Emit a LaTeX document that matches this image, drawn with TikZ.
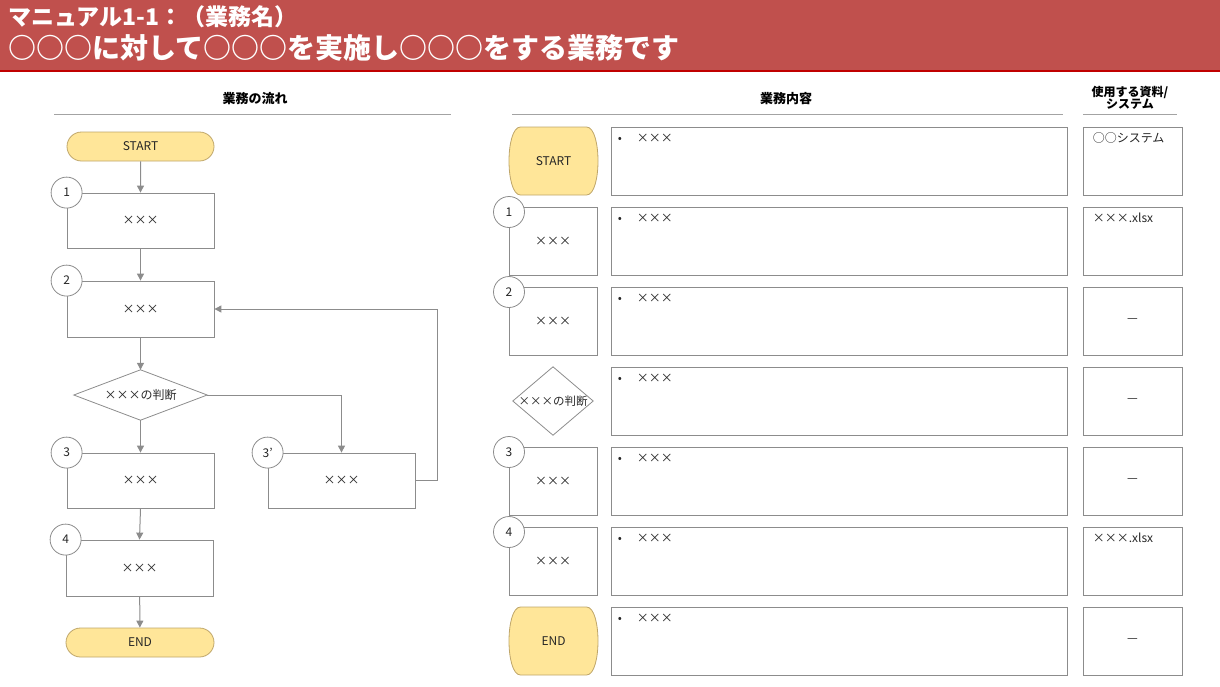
\documentclass[tikz,border=0pt]{standalone}
\usepackage{fontspec}
\setmainfont{Noto Sans CJK JP}
\usetikzlibrary{shapes.geometric,shapes.misc,arrows.meta}
\definecolor{hdrred}{HTML}{C0504D}
\definecolor{hdrline}{HTML}{C00000}
\definecolor{lg}{HTML}{8C8C8C}
\definecolor{termfill}{HTML}{FFE699}
\definecolor{termdraw}{HTML}{BFA66A}
\definecolor{txt}{HTML}{262626}
\begin{document}
\begin{tikzpicture}[x=1pt,y=-1pt,
  every node/.style={font=\fontsize{12}{14}\selectfont, text=txt},
  fbox/.style={draw=lg, line width=0.8pt, fill=white, minimum width=147pt, minimum height=55pt, inner sep=0pt},
  numc/.style={circle, draw=lg, line width=0.8pt, fill=white, minimum size=31pt, inner sep=0pt},
  term/.style={rounded rectangle, draw=termdraw, fill=termfill, line width=0.8pt, minimum width=147pt, minimum height=29pt, inner sep=0pt},
  decbox/.style={inner sep=0pt},
  decp/.style={draw=lg, line width=0.8pt},
  flow/.style={draw=lg, line width=1pt, -{Triangle[length=7pt,width=7pt]}},
  hdr/.style={font=\bfseries\fontsize{13}{13}\selectfont, text=black, align=center},
  hline/.style={draw=lg!80, line width=0.8pt},
  cbox/.style={draw=lg, line width=0.8pt, fill=white, minimum height=68pt, inner sep=0pt},
  barrel/.style={draw=termdraw, fill=termfill, line width=0.8pt},
  ttl/.style={text=white, font=\bfseries, anchor=base west, inner sep=0pt},
  cell/.style={anchor=north west, inner sep=0pt}
]
\useasboundingbox (0,0) rectangle (1220,686);
% title band
\fill[hdrred] (0,0) rectangle (1220,71);
\draw[hdrline, line width=1.5pt] (0,71) -- (1220,71);
\node[ttl, font=\bfseries\fontsize{23}{23}\selectfont] (t1) at (8,25) {マニュアル1-1：（業務名）};
\node[ttl, font=\bfseries\fontsize{28}{28}\selectfont] (t2) at (8,58) {○○○に対して○○○を実施し○○○をする業務です};

% section headers
\node[hdr] (h1) at (255,99) {業務の流れ};
\draw[hline] (54,114) -- (451,114);
\node[hdr] (h2) at (786,99) {業務内容};
\draw[hline] (512,114) -- (1063,114);
\node[hdr, font=\bfseries\fontsize{12}{12.5}\selectfont] (h3) at (1130,98) {使用する資料/\\システム};
\draw[hline] (1083,114) -- (1177,114);

% left flowchart
\node[term] (start) at (140.5,146.5) {START};
\node[fbox] (b1) at (140.5,220.5) {×××};
\node[numc] (n1) at (b1.north west) {1};
\node[fbox, minimum height=56pt] (b2) at (140.5,309) {×××};
\node[numc] (n2) at (b2.north west) {2};
\node[decbox, minimum width=133pt, minimum height=50pt] (d) at (140.5,395) {×××の判断};
\draw[decp] (d.north) -- (d.east) -- (d.south) -- (d.west) -- cycle;
\node[fbox] (b3) at (140.5,480.5) {×××};
\node[numc] (n3) at (b3.north west) {3};
\node[fbox] (b3p) at (341.5,480.5) {×××};
\node[numc] (n3p) at (b3p.north west) {3’};
\node[fbox, minimum height=56pt] (b4) at (139.5,568) {×××};
\node[numc] (n4) at (b4.north west) {4};
\node[term, minimum width=148pt] (end) at (140,642.5) {END};

\draw[flow] (start) -- (b1);
\draw[flow] (b1) -- (b2);
\draw[flow] (b2) -- (d.north);
\draw[flow] (d.south) -- (b3);
\draw[flow] (d.east) -| (b3p.north);
\draw[flow] (b3p.east) -- ++(22,0) |- (b2.east);
\draw[flow] (b3.south) -- (b4.north);
\draw[flow] (b4) -- (end);

% right table: column 1
\begin{scope}[shift={(553.5,161)}]
\draw[barrel] (-33,-34) -- (33,-34) .. controls (41,-34) and (44.5,-16) .. (44.5,0) .. controls (44.5,16) and (41,34) .. (33,34) -- (-33,34) .. controls (-41,34) and (-44.5,16) .. (-44.5,0) .. controls (-44.5,-16) and (-41,-34) .. (-33,-34) -- cycle;
\end{scope}
\node (rs) at (553.5,161) {START};
\node[cbox, minimum width=88pt] (r1) at (553,241) {×××};
\node[numc] (rn1) at (509,212) {1};
\node[cbox, minimum width=88pt] (r2) at (553,321) {×××};
\node[numc] (rn2) at (509,292) {2};
\node[decbox, minimum width=80pt, minimum height=68pt, font=\fontsize{11.5}{13}\selectfont] (rd) at (553,401) {×××の判断};
\draw[decp] (rd.north) -- (rd.east) -- (rd.south) -- (rd.west) -- cycle;
\node[cbox, minimum width=88pt] (r3) at (553,481) {×××};
\node[numc] (rn3) at (509,452) {3};
\node[cbox, minimum width=88pt] (r4) at (553,561) {×××};
\node[numc] (rn4) at (509,532) {4};
\begin{scope}[shift={(553.5,641)}]
\draw[barrel] (-33,-34) -- (33,-34) .. controls (41,-34) and (44.5,-16) .. (44.5,0) .. controls (44.5,16) and (41,34) .. (33,34) -- (-33,34) .. controls (-41,34) and (-44.5,16) .. (-44.5,0) .. controls (-44.5,-16) and (-41,-34) .. (-33,-34) -- cycle;
\end{scope}
\node (re) at (553.5,641) {END};

% column 2
\foreach \i in {0,...,6}{
  \node[cbox, minimum width=456pt] (m\i) at (839,{161+80*\i}) {};
  \node[cell] (mt\i) at ([shift={(7,7)}]m\i.north west) {•\hspace{15pt}×××};
}

% column 3
\foreach \i in {0,...,6}{
  \node[cbox, minimum width=99pt] (s\i) at (1132.5,{161+80*\i}) {};
}
\node[cell] (st0) at ([shift={(10,6)}]s0.north west) {○○システム};
\node[cell] (st1) at ([shift={(10,6)}]s1.north west) {×××.xlsx};
\node (st2) at (s2) {—};
\node (st3) at (s3) {—};
\node (st4) at (s4) {—};
\node[cell] (st5) at ([shift={(10,6)}]s5.north west) {×××.xlsx};
\node (st6) at (s6) {—};
\end{tikzpicture}
\end{document}
